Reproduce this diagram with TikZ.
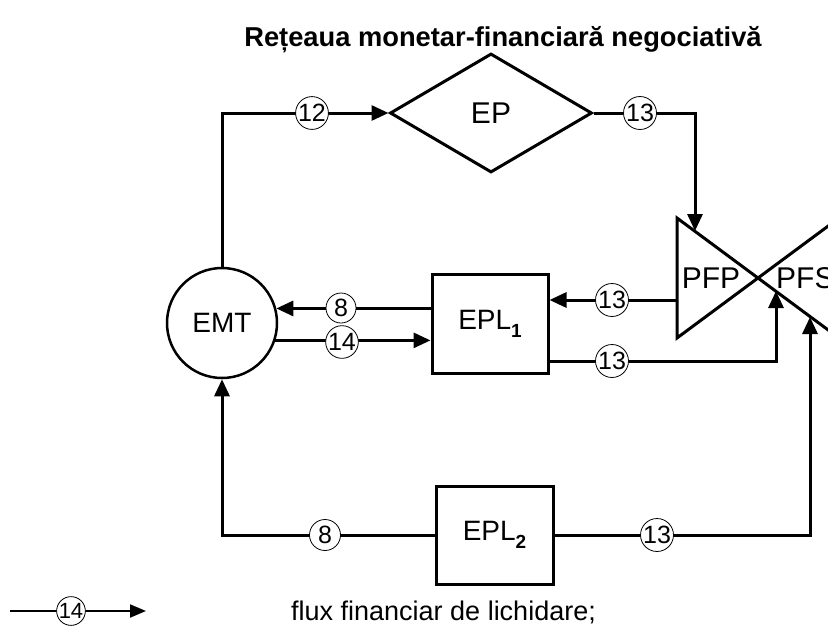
\documentclass[tikz,border=0pt]{standalone}
\usepackage{fontspec}
\setmainfont{Liberation Sans}
\usetikzlibrary{arrows.meta,shapes.geometric}

\tikzset{
  flow/.style={line width=3pt,-{Triangle[length=17pt,width=15pt]}},
  wire/.style={line width=3pt,line join=miter},
  num/.style={draw,circle,line width=0.8pt,fill=white,inner sep=0pt,minimum size=31pt,font=\fontsize{25}{25}\selectfont},
  block/.style={draw,line width=3pt,inner sep=0pt,font=\fontsize{28}{28}\selectfont},
}

\begin{document}
\begin{tikzpicture}[x=1pt,y=-1pt]
        \useasboundingbox (0,0) rectangle (828,627);
        \clip (0,0) rectangle (828,627);

        \node[anchor=base,font=\fontsize{27.3}{30}\selectfont\bfseries] (title) at (503,46) {Rețeaua monetar-financiară negociativă};

        \node[block,circle,minimum size=110pt,line width=2.5pt] (emt) at (222,323) {EMT};
        \node[block,diamond,minimum width=202pt,minimum height=119pt,font=\fontsize{30}{30}\selectfont] (ep) at (491,113) {EP};
        \node[block,minimum width=116pt,minimum height=99pt] (eplA) at (490,323.5) {EPL\raisebox{-8pt}{\fontsize{19}{19}\selectfont\bfseries 1}};
        \node[block,minimum width=117pt,minimum height=98pt] (eplB) at (494.5,535) {EPL\raisebox{-8pt}{\fontsize{19}{19}\selectfont\bfseries 2}};

        %PFP / PFS
        \coordinate (pfpa) at (677,218);
        \coordinate (pfpb) at (677,338);
        \coordinate (cross) at (758,278);
        \coordinate (pfsa) at (839,218);
        \coordinate (pfsb) at (839,338);
        \draw[wire] (cross) -- (pfpa) -- (pfpb) -- cycle;
        \draw[wire] (cross) -- (pfsa) -- (pfsb) -- cycle;
        \node[font=\fontsize{30}{30}\selectfont] (pfp) at (711,278) {PFP};
        \node[anchor=west,inner sep=0pt,font=\fontsize{30}{30}\selectfont] (pfs) at (776,278) {PFS};

        \coordinate (pfptop) at (695,231);
        \coordinate (pfpin) at (677,300);
        \coordinate (pfsinA) at (776,291);
        \coordinate (pfsinB) at (810,317);

        %flows
        \draw[flow] (emt.north) |- (ep.west);
        \draw[flow] (ep.east) -| (pfptop);
        \draw[flow] (pfpin) -- (pfpin -| eplA.east);
        \draw[flow] (eplA.east |- 0,361) -| (pfsinA);
        \draw[flow] (eplA.west |- emt.15) -- (emt.15);
        \draw[flow] (emt.-18) -- (eplA.west |- emt.-18);
        \draw[flow] (eplB.west) -| (emt.south);
        \draw[flow] (eplB.east) -| (pfsinB);

        \node[num] (n12) at (312,113) {12};
        \node[num] (n13a) at (640,113) {13};
        \node[num] (n13b) at (612,300) {13};
        \node[num] (n13c) at (612,361) {13};
        \node[num,minimum size=30pt] (n8a) at (341,308) {8};
        \node[num,minimum size=30pt] (n14) at (342,342) {14};
        \node[num] (n8b) at (325,535) {8};
        \node[num] (n13d) at (657,535) {13};

        %legend
        \coordinate (lega) at (10,611);
        \coordinate (legb) at (146,611);
        \draw[line width=2pt,-{Triangle[length=16pt,width=13pt]}] (lega) -- (legb);
        \node[num,minimum size=28pt,font=\fontsize{22}{22}\selectfont] (n14leg) at (71,611) {14};
        \node[anchor=base west,inner sep=0pt,font=\fontsize{27}{27}\selectfont] (legtext) at (291,620) {flux financiar de lichidare;};
\end{tikzpicture}
\end{document}
